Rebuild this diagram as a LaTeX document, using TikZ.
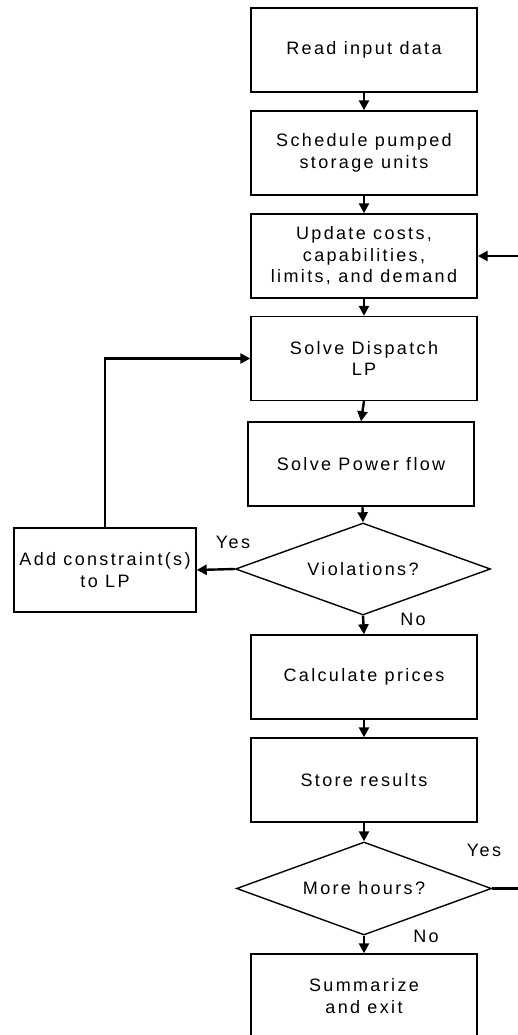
\documentclass[tikz,border=0pt]{standalone}
\usepackage{fontspec}
\setmainfont{Liberation Sans}[LetterSpace=13]
\usetikzlibrary{shapes.geometric,arrows.meta}
\begin{document}
\begin{tikzpicture}[x=1pt,y=-1pt,
  every node/.style={font=\fontsize{18}{21.5}\selectfont},
  box/.style={draw,line width=1.4pt,rectangle,minimum width=226pt,minimum height=84pt,inner sep=0pt,align=center},
  dec/.style={draw,line width=1.4pt,diamond,shape aspect=2.77,minimum width=255pt,minimum height=92pt,inner sep=0pt,align=center},
  arr/.style={line width=2.4pt,-{Triangle[length=10pt,width=10pt]}},
  lab/.style={inner sep=0pt}]
\useasboundingbox (0,0) rectangle (518,1035);
\clip (0,0) rectangle (518,1035);
\node[box] (b1) at (364,50) {\raisebox{-4pt}{Read input data}};
\node[box] (b2) at (364,153) {Schedule pumped\\storage units};
\node[box] (b3) at (364,256) {Update costs,\\capabilities,\\limits, and demand};
\node[box] (b4) at (364,358.5) {Solve Dispatch\\LP};
\node[box] (b5) at (361,464) {Solve Power flow};
\node[dec] (d1) at (363,569) {Violations?};
\node[box,minimum width=182pt] (add) at (105,570) {Add constraint(s)\\to LP};
\node[box] (b6) at (364,677) {Calculate prices};
\node[box] (b7) at (364,780) {Store results};
\node[dec,minimum height=93pt] (d2) at (364,888.5) {More hours?};
\node[box] (b8) at (364,996) {Summarize\\and exit};
\coordinate (in3) at (525,256);
\coordinate (out2) at (525,888.5);
\node[lab] (y1) at (233,542) {Yes};
\node[lab] (n1) at (413,619) {No};
\node[lab] (y2) at (484,850) {Yes};
\node[lab] (n2) at (426,936) {No};
\draw[arr] (b1) -- (b2);
\draw[arr] (b2) -- (b3);
\draw[arr] (in3) -- (b3.east);
\draw[arr] (b3) -- (b4);
\draw[arr] (b4.south) -- (b5.north);
\draw[arr] (b5) -- (d1.north);
\draw[arr] (d1.west) -- (add.east);
\draw[arr] (add.north) |- (b4.west);
\draw[arr] (d1.south) -- (b6.north);
\draw[arr] (b6) -- (b7);
\draw[arr] (b7) -- (d2.north);
\draw[line width=2.4pt] (d2.east) -- (out2);
\draw[arr] (d2.south) -- (b8.north);
\end{tikzpicture}
\end{document}
